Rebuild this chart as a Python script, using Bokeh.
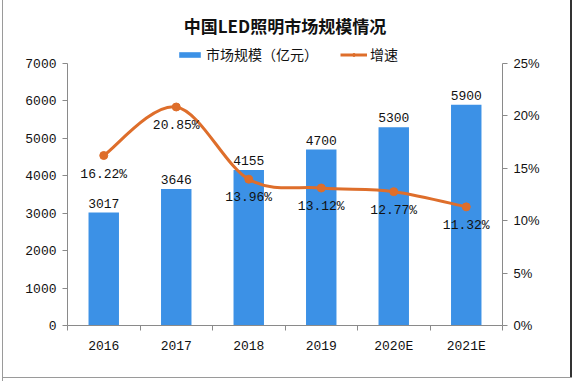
from bokeh.plotting import figure
from bokeh.models import (Range1d, LinearAxis, FixedTicker, NumeralTickFormatter,
                          ColumnDataSource, Legend, LegendItem, Title)
from bokeh.core.properties import value
from bokeh.embed import file_html
from bokeh.resources import INLINE

years = ["2016", "2017", "2018", "2019", "2020E", "2021E"]
market = [3017, 3646, 4155, 4700, 5300, 5900]
growth = [16.22, 20.85, 13.96, 13.12, 12.77, 11.32]
growth_labels = ["16.22%", "20.85%", "13.96%", "13.12%", "12.77%", "11.32%"]
left_max = 7000
right_max = 0.25

BAR = "#3C91E6"
LINE = "#DE6E2B"
AX = "#8a8a8a"
MONO = "Liberation Mono"
CJK = "Noto Sans CJK SC"

W, H = 572, 381
LEFT, RIGHT, TOP, BOTTOM = 67, 70, 40, 56
frame_h = H - TOP - BOTTOM
axis_h = 262  # pixel height of the visible value axes
scale = frame_h / axis_h

n = len(years)
xs = [i + 0.5 for i in range(n)]
g = [v / 100 for v in growth]

src = ColumnDataSource(dict(x=xs, m=market, g=g, ml=[str(v) for v in market], gl=growth_labels))

p = figure(width=W, height=H, output_backend="svg", toolbar_location=None,
           x_range=Range1d(0, n), y_range=Range1d(0, left_max * scale),
           min_border_left=LEFT, min_border_right=RIGHT, min_border_bottom=BOTTOM, min_border_top=TOP,
           styles={"background-color": "white",
                   "box-shadow": "inset 2px 0 0 #ffffff, inset 3px 0 0 #9a9a9a, "
                                 "inset 0 -3px 0 #ffffff, inset 0 -4px 0 #9a9a9a, "
                                 "inset -2px 0 0 #333333"})
p.xgrid.visible = False
p.ygrid.visible = False
p.outline_line_color = None
p.background_fill_alpha = 0
p.border_fill_alpha = 0

p.extra_y_ranges = {"pct": Range1d(0, right_max * scale)}

xa = p.xaxis[0]
xa.ticker = FixedTicker(ticks=xs, minor_ticks=list(range(n + 1)))
xa.major_label_overrides = {x: y for x, y in zip(xs, years)}
xa.major_tick_in = 0
xa.major_tick_out = 0
xa.minor_tick_in = 0
xa.minor_tick_out = 5
xa.minor_tick_line_color = AX
xa.axis_line_color = AX
xa.major_label_text_font = MONO
xa.major_label_text_font_size = "13px"
xa.major_label_text_color = "#111111"
xa.major_label_standoff = 8

ya = p.yaxis[0]
ya.ticker = FixedTicker(ticks=list(range(0, left_max + 1, 1000)))
ya.bounds = (0, left_max)
ya.major_tick_in = 0
ya.major_tick_out = 5
ya.minor_tick_line_color = None
ya.axis_line_color = AX
ya.major_tick_line_color = AX
ya.major_label_text_font = MONO
ya.major_label_text_font_size = "13px"
ya.major_label_text_color = "#111111"
ya.major_label_standoff = 6

ra = LinearAxis(y_range_name="pct", ticker=FixedTicker(ticks=[0, 0.05, 0.10, 0.15, 0.20, 0.25]),
                formatter=NumeralTickFormatter(format="0%"), bounds=(0, right_max))
ra.major_tick_in = 0
ra.major_tick_out = 5
ra.minor_tick_line_color = None
ra.axis_line_color = AX
ra.major_tick_line_color = AX
ra.major_label_text_font = "Liberation Sans"
ra.major_label_text_font_size = "13px"
ra.major_label_text_color = "#111111"
ra.major_label_standoff = 6
p.add_layout(ra, "right")

bars = p.vbar(x="x", top="m", width=0.42, source=src, fill_color=BAR, line_color=None)

# smooth line (Catmull-Rom bezier through the data points)
px, py = xs, g
x0, y0, x1, y1, cx0, cy0, cx1, cy1 = [], [], [], [], [], [], [], []
for i in range(n - 1):
    a = max(i - 1, 0)
    d = min(i + 2, n - 1)
    x0.append(px[i]); y0.append(py[i]); x1.append(px[i + 1]); y1.append(py[i + 1])
    cx0.append(px[i] + (px[i + 1] - px[a]) / 6); cy0.append(py[i] + (py[i + 1] - py[a]) / 6)
    cx1.append(px[i + 1] - (px[d] - px[i]) / 6); cy1.append(py[i + 1] - (py[d] - py[i]) / 6)
p.bezier(x0=x0, y0=y0, x1=x1, y1=y1, cx0=cx0, cy0=cy0, cx1=cx1, cy1=cy1,
         line_color=LINE, line_width=3, y_range_name="pct")
dots = p.scatter(x="x", y="g", source=src, size=8, fill_color=LINE, line_color=LINE, y_range_name="pct")
leg_line = p.line([0], [0], line_color=LINE, line_width=3, visible=False, y_range_name="pct")

p.text(x="x", y="m", text="ml", source=src, y_offset=-5, text_align="center",
       text_baseline="bottom", text_font=value(MONO), text_font_size="13px", text_color="#111111")
p.text(x="x", y="g", text="gl", source=src, y_offset=11, text_align="center",
       text_baseline="top", text_font=value(MONO), text_font_size="13px", text_color="#111111",
       y_range_name="pct")

legend = Legend(items=[LegendItem(label="市场规模（亿元）", renderers=[bars]),
                       LegendItem(label="增速", renderers=[leg_line, dots])],
                orientation="horizontal", location=(109, frame_h - 24),
                label_text_font=CJK, label_text_font_size="14px", label_text_color="#111111",
                glyph_width=27, glyph_height=7, spacing=22, padding=0, margin=0,
                border_line_color=None, background_fill_alpha=0, label_standoff=3)
p.add_layout(legend)

p.add_layout(Title(text="中国LED照明市场规模情况", align="center", text_font=CJK,
                   text_font_size="17px", text_font_style="bold", text_color="#111111",
                   standoff=6), "above")

open("out.html", "w").write(file_html(p, INLINE))
